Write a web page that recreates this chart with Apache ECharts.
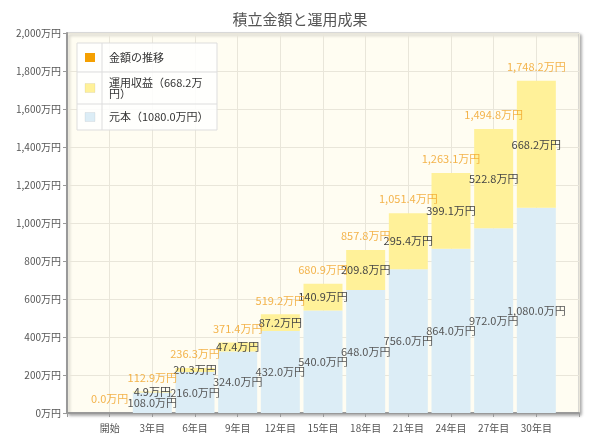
<!DOCTYPE html>
<html>
<head>
<meta charset="utf-8">
<script src="https://cdn.jsdelivr.net/npm/echarts@6/dist/echarts.min.js"></script>
<style>html,body{margin:0;padding:0;background:#fff;}#c{width:600px;height:448px;}</style>
</head>
<body>
<div id="c"></div>
<script>
var categories = ['開始', '3年目', '6年目', '9年目', '12年目', '15年目', '18年目', '21年目', '24年目', '27年目', '30年目'];
var principal = [0, 108.0, 216.0, 324.0, 432.0, 540.0, 648.0, 756.0, 864.0, 972.0, 1080.0];
var gains = [0, 4.9, 20.3, 47.4, 87.2, 140.9, 209.8, 295.4, 399.1, 522.8, 668.2];
var totals = [0.0, 112.9, 236.3, 371.4, 519.2, 680.9, 857.8, 1051.4, 1263.1, 1494.8, 1748.2];
var seriesNames = ['金額の推移', '運用収益（668.2万円）', '元本（1080.0万円）'];
var yTicks = [0, 200, 400, 600, 800, 1000, 1200, 1400, 1600, 1800, 2000];

var FONT = '"Noto Sans CJK JP", "Noto Sans", sans-serif';
var colTotal = '#f5a000', colGain = '#fff199', colPrin = '#dcedf6';

function pad(a) { return [null].concat(a, [null]); }
function fmt(v) {
  return v.toLocaleString('en-US', {minimumFractionDigits: 1, maximumFractionDigits: 1}) + '万円';
}
var axisCats = [''].concat(categories, ['']);

var chart = echarts.init(document.getElementById('c'));

var lx = 77, ly = 43, lw = 140, rowH = [29, 32, 26], sepX = 102;
var legendEls = [];
legendEls.push({type: 'rect', shape: {x: lx, y: ly, width: lw, height: rowH[0] + rowH[1] + rowH[2]},
  style: {fill: 'rgba(255,255,255,0.85)', stroke: '#dddddd', lineWidth: 1}, z: 100});
legendEls.push({type: 'line', shape: {x1: sepX, y1: ly, x2: sepX, y2: ly + rowH[0] + rowH[1] + rowH[2]},
  style: {stroke: '#dddddd', lineWidth: 1}, z: 101});
var cols = [colTotal, colGain, colPrin];
var yy = ly;
for (var i = 0; i < 3; i++) {
  if (i > 0) legendEls.push({type: 'line', shape: {x1: lx, y1: yy, x2: lx + lw, y2: yy},
    style: {stroke: '#dddddd', lineWidth: 1}, z: 101});
  var cy = yy + rowH[i] / 2;
  legendEls.push({type: 'rect', shape: {x: 85, y: cy - 4.5, width: 10, height: 9},
    style: {fill: cols[i], stroke: i === 0 ? null : 'rgba(0,0,0,0.06)'}, z: 102});
  var shown = seriesNames[i].replace('万円）', i === 1 ? '万\n円）' : '万円）');
  legendEls.push({type: 'text', x: 109, y: cy,
    style: {text: shown, fill: '#333', font: '11px ' + FONT,
      verticalAlign: 'middle', lineHeight: 11}, z: 102});
  yy += rowH[i];
}

chart.setOption({
  animation: false,
  backgroundColor: '#ffffff',
  title: {text: '積立金額と運用成果', left: 'center', top: 7,
    textStyle: {fontFamily: FONT, fontSize: 15, fontWeight: 'normal', color: '#555'}},
  grid: {left: 67, right: 21, top: 33, bottom: 35, show: true, backgroundColor: '#fffdf2',
    borderColor: '#bbbbbb', borderWidth: 1, shadowColor: 'rgba(0,0,0,0.35)', shadowBlur: 3,
    shadowOffsetX: 2, shadowOffsetY: 2},
  xAxis: {type: 'category', data: axisCats, boundaryGap: false,
    axisLine: {lineStyle: {color: '#999', width: 2}},
    axisTick: {show: true, length: 4, lineStyle: {color: '#999'}},
    axisLabel: {interval: 0, color: '#555', fontFamily: FONT, fontSize: 10, margin: 10},
    splitLine: {show: true, lineStyle: {color: '#e9e6da'}}},
  yAxis: {type: 'value', min: 0, max: 2000, interval: 200,
    axisLine: {show: true, lineStyle: {color: '#999', width: 2}},
    axisTick: {show: true, length: 4, lineStyle: {color: '#999'}},
    axisLabel: {color: '#555', fontFamily: FONT, fontSize: 10, margin: 6,
      formatter: function (v) { return v.toLocaleString('en-US') + '万円'; }},
    splitLine: {show: true, lineStyle: {color: '#e9e6da'}}},
  series: [
    {name: seriesNames[2], type: 'bar', stack: 's', barWidth: 39, data: pad(principal),
      itemStyle: {color: colPrin},
      label: {show: true, position: 'inside', color: '#555', fontFamily: FONT, fontSize: 11,
        formatter: function (p) { return p.value ? fmt(p.value) : ''; }}},
    {name: seriesNames[1], type: 'bar', stack: 's', barWidth: 39, data: pad(gains),
      itemStyle: {color: colGain},
      label: {show: true, position: 'inside', color: '#444', fontFamily: FONT, fontSize: 11,
        formatter: function (p) { return p.value ? fmt(p.value) : ''; }}},
    {name: seriesNames[0], type: 'scatter', data: pad(totals), symbolSize: 1,
      itemStyle: {color: 'rgba(0,0,0,0)'}, z: 5,
      label: {show: true, position: 'top', distance: 8, color: '#f0a020', fontFamily: FONT, fontSize: 11,
        formatter: function (p) { return fmt(p.value); }}}
  ],
  graphic: legendEls
});
</script>
</body>
</html>
